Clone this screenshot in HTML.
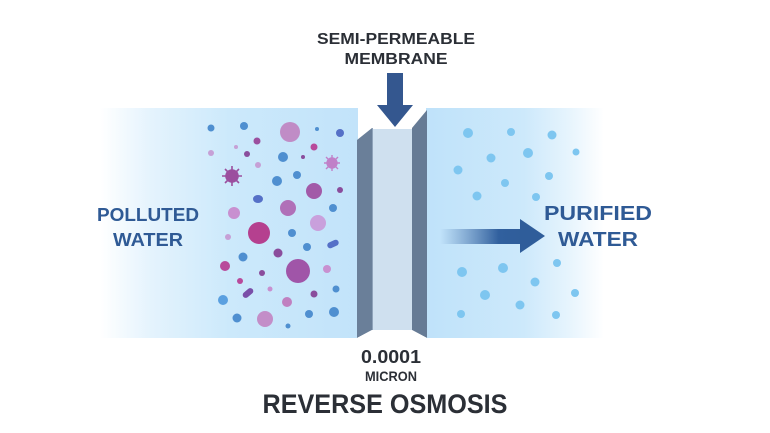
<!DOCTYPE html>
<html><head><meta charset="utf-8"><style>html,body{margin:0;padding:0;background:#fff}svg{display:block}</style></head>
<body>
<svg width="770" height="433" viewBox="0 0 770 433" xmlns="http://www.w3.org/2000/svg" font-family="Liberation Sans, sans-serif" font-weight="bold">
<defs>
<linearGradient id="gl" x1="0" x2="1" y1="0" y2="0">
<stop offset="0" stop-color="#ffffff"/><stop offset="0.2" stop-color="#e4f3fd"/><stop offset="0.5" stop-color="#cce9fb"/><stop offset="1" stop-color="#c2e3fa"/></linearGradient>
<linearGradient id="gr" x1="0" x2="1" y1="0" y2="0">
<stop offset="0" stop-color="#bfe2fa"/><stop offset="0.55" stop-color="#cde9fb"/><stop offset="0.8" stop-color="#e6f4fd"/><stop offset="1" stop-color="#ffffff"/></linearGradient>
<linearGradient id="ga" x1="0" x2="1" y1="0" y2="0">
<stop offset="0" stop-color="#3a6aa8" stop-opacity="0"/><stop offset="0.7" stop-color="#31609e"/><stop offset="1" stop-color="#2f5d9a"/></linearGradient>
</defs>
<rect x="100" y="108" width="258" height="230" fill="url(#gl)"/>
<rect x="426" y="108" width="178" height="230" fill="url(#gr)"/>
<!-- membrane -->
<polygon points="357,140 372,128 372,330 357,338" fill="#6a7f99"/>
<polygon points="372,128 373,128 373,330 372,330" fill="#8fa3ba"/>
<rect x="373" y="129" width="39" height="201" fill="#cfe0ef"/>
<polygon points="412,128 427,110 427,338 412,330" fill="#667b95"/>
<polygon points="357,338 372,330 412,330 427,338" fill="#fff"/>
<!-- down arrow -->
<rect x="387" y="73" width="16" height="33" fill="#34578f"/>
<polygon points="377,105 413,105 395,127" fill="#34578f"/>
<!-- right arrow -->
<rect x="440" y="229" width="84" height="15" fill="url(#ga)"/>
<polygon points="520,219 545,236 520,253" fill="#2f5d9a"/>
<!-- left particles -->
<g>
<circle cx="211" cy="128" r="3.5" fill="#4f8fd0"/><circle cx="244" cy="126" r="4" fill="#4f8fd0"/>
<circle cx="290" cy="132" r="10" fill="#c08cc6"/><circle cx="317" cy="129" r="2" fill="#4f8fd0"/>
<circle cx="340" cy="133" r="4" fill="#5570c7"/><circle cx="257" cy="141" r="3.5" fill="#9b4f9e"/>
<circle cx="236" cy="147" r="2" fill="#c6a0d6"/><circle cx="211" cy="153" r="3" fill="#c6a0d6"/>
<circle cx="314" cy="147" r="3.5" fill="#b84a9b"/><circle cx="247" cy="154" r="3" fill="#8a4d9c"/>
<circle cx="283" cy="157" r="5" fill="#4f8fd0"/><circle cx="303" cy="157" r="2" fill="#8a4d9c"/>
<circle cx="258" cy="165" r="3" fill="#c6a0d6"/><circle cx="297" cy="175" r="4" fill="#4f8fd0"/>
<circle cx="277" cy="181" r="5" fill="#4f8fd0"/><circle cx="314" cy="191" r="8" fill="#a25aa8"/>
<circle cx="340" cy="190" r="3" fill="#8a4d9c"/><ellipse cx="258" cy="199" rx="5" ry="4" fill="#5570c7"/>
<circle cx="288" cy="208" r="8" fill="#b070b8"/><circle cx="333" cy="208" r="4" fill="#4f8fd0"/>
<circle cx="234" cy="213" r="6" fill="#c890d0"/><circle cx="318" cy="223" r="8" fill="#c9a0dc"/>
<circle cx="259" cy="233" r="11" fill="#b5408f"/><circle cx="228" cy="237" r="3" fill="#c6a0d6"/>
<circle cx="292" cy="233" r="4" fill="#4f8fd0"/><rect x="327" y="241" width="12" height="6" rx="3" fill="#5570c7" transform="rotate(-25 333 244)"/>
<circle cx="307" cy="247" r="4" fill="#4f8fd0"/><circle cx="243" cy="257" r="4.5" fill="#4f8fd0"/>
<circle cx="278" cy="253" r="4.5" fill="#8a4d9c"/><circle cx="225" cy="266" r="5" fill="#b84a9b"/>
<circle cx="298" cy="271" r="12" fill="#a055a8"/><circle cx="327" cy="269" r="4" fill="#c890d0"/>
<circle cx="262" cy="273" r="3" fill="#8a4d9c"/><circle cx="240" cy="281" r="3" fill="#b84a9b"/>
<rect x="242" y="290" width="12" height="6" rx="3" fill="#7a4fa8" transform="rotate(-40 248 293)"/>
<circle cx="270" cy="289" r="2.5" fill="#c890d0"/><circle cx="314" cy="294" r="3.5" fill="#8a4d9c"/>
<circle cx="336" cy="289" r="3.5" fill="#4f8fd0"/><circle cx="223" cy="300" r="5" fill="#5aa0e0"/>
<circle cx="287" cy="302" r="5" fill="#c080c0"/><circle cx="237" cy="318" r="4.5" fill="#4f8fd0"/>
<circle cx="265" cy="319" r="8" fill="#c38ec8"/><circle cx="309" cy="314" r="4" fill="#4f8fd0"/>
<circle cx="334" cy="312" r="5" fill="#4f8fd0"/><circle cx="288" cy="326" r="2.5" fill="#4f8fd0"/>
<!-- viruses -->
<g fill="#9b4f9e" stroke="#9b4f9e" stroke-width="1.6">
<circle cx="232" cy="176" r="6"/>
<path d="M232 166V186M222 176H242M225 169L239 183M239 169L225 183" fill="none"/>
</g>
<g fill="#c080c8" stroke="#c080c8" stroke-width="1.4">
<circle cx="332" cy="163" r="5"/>
<path d="M332 155V171M324 163H340M326 157L338 169M338 157L326 169" fill="none"/>
</g>
</g>
<!-- right dots -->
<g fill="#7ec6f0">
<circle cx="468" cy="133" r="5"/><circle cx="511" cy="132" r="4"/><circle cx="552" cy="135" r="4.5"/>
<circle cx="491" cy="158" r="4.5"/><circle cx="528" cy="153" r="5"/><circle cx="576" cy="152" r="3.5"/>
<circle cx="458" cy="170" r="4.5"/><circle cx="549" cy="176" r="4"/><circle cx="505" cy="183" r="4"/>
<circle cx="477" cy="196" r="4.5"/><circle cx="536" cy="197" r="4"/><circle cx="557" cy="263" r="4"/>
<circle cx="462" cy="272" r="5"/><circle cx="503" cy="268" r="5"/><circle cx="535" cy="282" r="4.5"/>
<circle cx="485" cy="295" r="5"/><circle cx="575" cy="293" r="4"/><circle cx="520" cy="305" r="4.5"/>
<circle cx="461" cy="314" r="4"/><circle cx="556" cy="315" r="4"/>
</g>
<!-- text -->
<g fill="#2b2f36" text-anchor="middle">
<text x="396" y="44" font-size="16" textLength="158" lengthAdjust="spacingAndGlyphs">SEMI-PERMEABLE</text>
<text x="396" y="64" font-size="16" textLength="103" lengthAdjust="spacingAndGlyphs">MEMBRANE</text>
<text x="391" y="363" font-size="18" textLength="60" lengthAdjust="spacingAndGlyphs">0.0001</text>
<text x="391" y="381" font-size="14" textLength="52" lengthAdjust="spacingAndGlyphs">MICRON</text>
<text x="385" y="413" font-size="27" textLength="245" lengthAdjust="spacingAndGlyphs">REVERSE OSMOSIS</text>
</g>
<g fill="#2f5a95" text-anchor="middle">
<text x="148" y="221" font-size="18" textLength="102" lengthAdjust="spacingAndGlyphs">POLLUTED</text>
<text x="148" y="246" font-size="18" textLength="70" lengthAdjust="spacingAndGlyphs">WATER</text>
<text x="598" y="220" font-size="20" textLength="108" lengthAdjust="spacingAndGlyphs">PURIFIED</text>
<text x="598" y="246" font-size="20" textLength="80" lengthAdjust="spacingAndGlyphs">WATER</text>
</g>
</svg>
</body></html>
